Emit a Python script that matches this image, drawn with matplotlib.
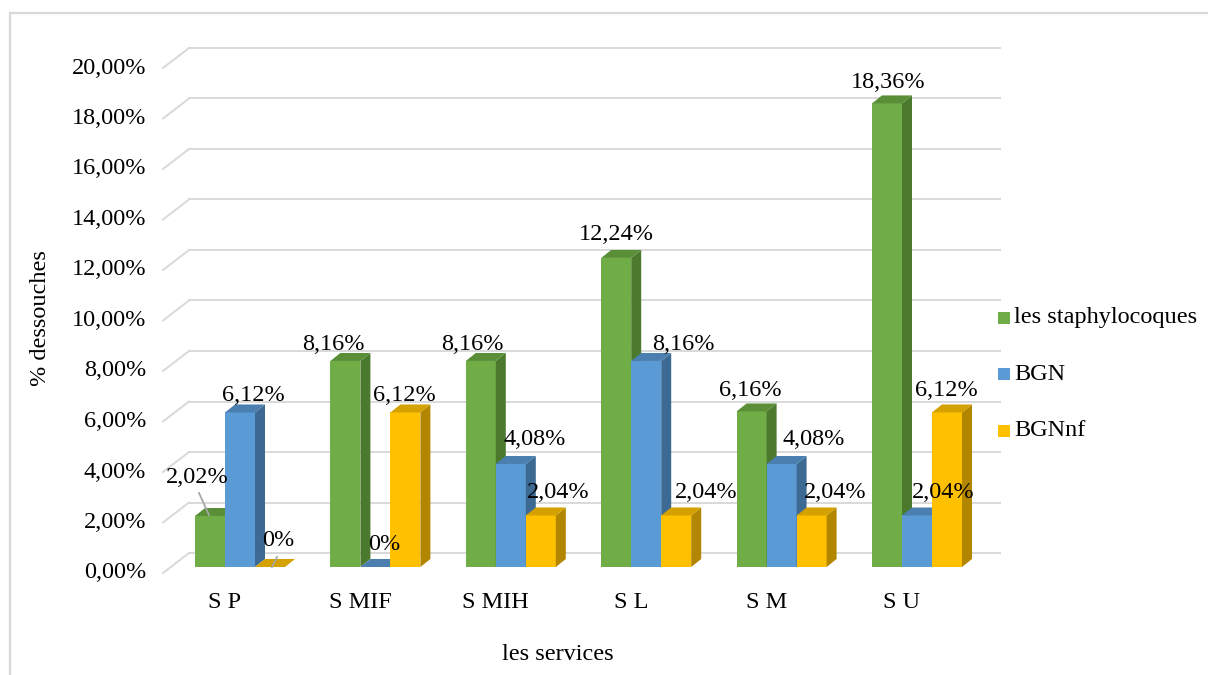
import numpy as np
import matplotlib.pyplot as plt
from matplotlib.patches import Polygon, Rectangle

categories = ['S P', 'S MIF', 'S MIH', 'S L', 'S M', 'S U']
staph = [2.02, 8.16, 8.16, 12.24, 6.16, 18.36]
bgn = [6.12, 0, 4.08, 8.16, 4.08, 2.04]
bgnnf = [0, 6.12, 2.04, 2.04, 2.04, 6.12]
staph_labels = ['2,02%', '8,16%', '8,16%', '12,24%', '6,16%', '18,36%']
bgn_labels = ['6,12%', '0%', '4,08%', '8,16%', '4,08%', '2,04%']
bgnnf_labels = ['0%', '6,12%', '2,04%', '2,04%', '2,04%', '6,12%']
series_names = ['les staphylocoques', 'BGN', 'BGNnf']
yticks = np.arange(0, 21, 2)

# face colours: front, side, top
colors = [('#70ad47', '#4b7a2e', '#5a8f38'),
          ('#5b9bd5', '#3d6a92', '#4a7fb0'),
          ('#ffc000', '#b38600', '#d4a100')]
# label offsets in pixels from the front-top centre of each bar
label_dx = [[-13, -12, -8, 0, -1, 1], [13, 9, 24, 37, 32, 26], [8, -1, 17, 30, 24, -1]]
label_dy = [[-38, -16, -16, -23, -21, -21], [-17, -22, -24, -16, -24, -23], [-27, -17, -23, -23, -23, -22]]

W, H = 1208, 675
X0, C = 240, 135.4     # pixel of first group, pixels per category
Y0, K = 573, 25.25     # pixel of 0 % on the front edge, pixels per percent
DX, DY = 26 / C, 20 / K          # floor depth
BY = 6 / K                       # bar plane sits a bit back
BW = 30 / C                      # bar width
BDX, BDY = 10 / C, 8 / K         # bar depth

plt.rcParams['font.family'] = ['Liberation Serif', 'DejaVu Serif']
FS = 17.5

fig = plt.figure(figsize=(W / 100, H / 100), dpi=100)
ax = fig.add_axes([0, 0, 1, 1])
ax.set_xlim(-X0 / C, (W - X0) / C)
ax.set_ylim((Y0 - H) / K, Y0 / K)
ax.axis('off')


def px(xp):
    return (xp - X0) / C


# frame (left and top edges only visible)
ax.plot([px(10), px(10)], [(Y0 - 13) / K, (Y0 - H) / K], color='#d9d9d9', lw=1.6, clip_on=False)
ax.plot([px(10), px(W)], [(Y0 - 13) / K, (Y0 - 13) / K], color='#d9d9d9', lw=1.6, clip_on=False)

# back wall gridlines + floor diagonals
for v in yticks:
    ax.plot([px(189), px(1000)], [v + DY, v + DY], color='#d9d9d9', lw=1.4, zorder=1)
    ax.plot([px(163), px(189)], [v, v + DY], color='#d9d9d9', lw=1.4, zorder=1)
    ax.text(px(146), v, f'{v:.2f}%'.replace('.', ','), ha='right', va='center', fontsize=FS)

x = np.arange(len(categories))
all_vals = [staph, bgn, bgnnf]
all_labels = [staph_labels, bgn_labels, bgnnf_labels]
z = 2
for g in range(len(categories)):
    for s in range(3):
        v = all_vals[s][g]
        front, side, top = colors[s]
        xc = x[g] + (s - 1) * BW
        l, r = xc - BW / 2, xc + BW / 2
        b, t = BY, BY + v
        if v > 0:
            ax.bar(xc, v, width=BW, bottom=BY, color=front, zorder=z)
            ax.add_patch(Polygon([(r, b), (r + BDX, b + BDY), (r + BDX, t + BDY), (r, t)],
                                 closed=True, facecolor=side, edgecolor='none', zorder=z))
        ax.add_patch(Polygon([(l, t), (l + BDX, t + BDY), (r + BDX, t + BDY), (r, t)],
                             closed=True, facecolor=top, edgecolor='none', zorder=z))
        z += 1
        lx = xc + label_dx[s][g] / C
        ly = t - label_dy[s][g] / K
        ax.text(lx, ly, all_labels[s][g], ha='center', va='center', fontsize=FS, zorder=50)

# leader lines for the moved labels in S P
ax.plot([px(199), px(209)], [(Y0 - 493) / K, (Y0 - 515) / K], color='#a6a6a6', lw=1.3, zorder=60)
ax.plot([px(277), px(272)], [(Y0 - 557) / K, (Y0 - 567) / K], color='#a6a6a6', lw=1.3, zorder=60)

# category labels
for g, name in enumerate(categories):
    ax.text(x[g] - 15 / C, (Y0 - 603) / K, name, ha='center', va='center', fontsize=FS)

ax.text(px(558), (Y0 - 655) / K, 'les services', ha='center', va='center', fontsize=FS)
ax.text(px(40), (Y0 - 318) / K, '% dessouches', ha='center', va='center', rotation=90, fontsize=FS)

# legend
for s, (name, yp) in enumerate(zip(series_names, [318, 374, 431])):
    ax.add_patch(Rectangle((px(998), (Y0 - yp - 6) / K), 12 / C, 12 / K,
                           facecolor=colors[s][0], edgecolor='none', clip_on=False))
    ax.text(px(1014), (Y0 - yp) / K, name, ha='left', va='center', fontsize=FS)

fig.savefig('out.png', dpi=100)
